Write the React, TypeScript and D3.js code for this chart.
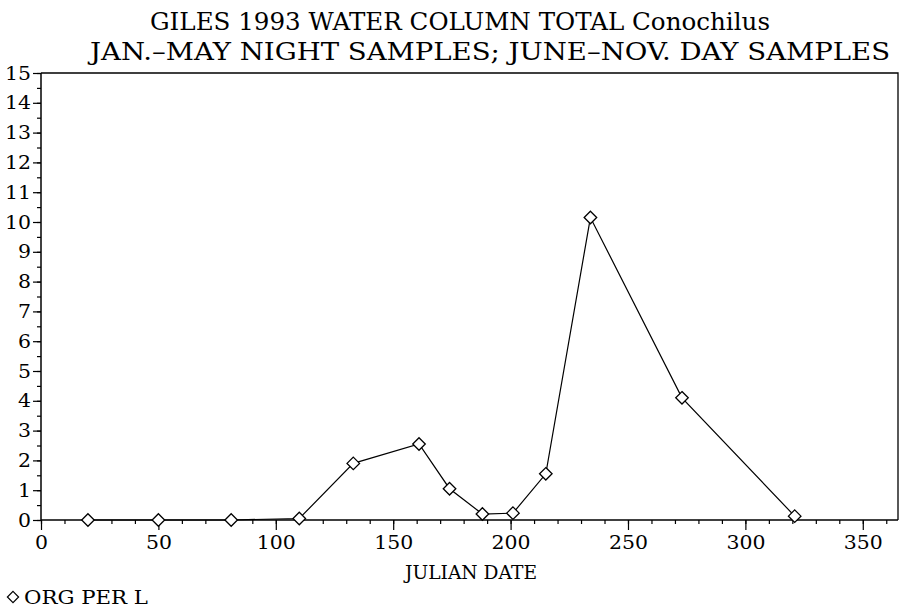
import React, { useRef, useEffect } from "react"
import * as d3 from "d3"

const julianDays = [20, 50, 81, 110, 133, 161, 174, 188, 201, 215, 234, 273, 321]
const orgPerL = [0, 0, 0, 0.05, 1.9, 2.55, 1.05, 0.2, 0.23, 1.55, 10.15, 4.1, 0.13]
const xTicks = [0, 50, 100, 150, 200, 250, 300, 350]
const yTicks = d3.range(0, 16)
const titleLines = [
  "GILES 1993 WATER COLUMN TOTAL Conochilus",
  "JAN.\u2013MAY NIGHT SAMPLES; JUNE\u2013NOV. DAY SAMPLES",
]
const xLabel = "JULIAN DATE"
const legendLabel = "ORG PER L"

const W = 900,
  H = 608
const margin = { top: 73, right: 2, bottom: 88, left: 41 }
const font = "'DejaVu Serif', serif"

function App() {
  const ref = useRef()

  useEffect(() => {
    const svg = d3.select(ref.current)
    svg.selectAll("*").remove()

    const x = d3
      .scaleLinear()
      .domain([0, 365])
      .range([margin.left, W - margin.right])
    const y = d3
      .scaleLinear()
      .domain([0, 15])
      .range([H - margin.bottom, margin.top])

    // titles
    svg
      .selectAll(".title")
      .data(titleLines)
      .enter()
      .append("text")
      .attr("x", (d, i) => (i === 0 ? 460 : 490))
      .attr("y", (d, i) => 30 + i * 30)
      .attr("text-anchor", "middle")
      .attr("textLength", (d, i) => (i === 0 ? 620 : 800))
      .attr("lengthAdjust", "spacingAndGlyphs")
      .style("font-family", font)
      .style("font-size", "25px")
      .text(d => d)

    // frame (top + right)
    svg
      .append("path")
      .attr("d", `M${x(0)},${y(15)}H${x(365)}V${y(0)}`)
      .attr("fill", "none")
      .attr("stroke", "#000")
      .attr("stroke-width", 1.3)

    // x axis
    const xAxis = svg.append("g").attr("transform", `translate(0,${y(0)})`)
    xAxis
      .append("g")
      .call(d3.axisBottom(x).tickValues(d3.range(0, 361, 10)).tickSize(4).tickFormat(""))
      .call(g => g.select(".domain").remove())
    xAxis
      .append("g")
      .call(d3.axisBottom(x).tickValues(xTicks).tickSize(10).tickPadding(6))
      .call(g => g.select(".domain").attr("d", `M${x(0)},0H${x(365)}`).attr("stroke-width", 1.5))
      .call(g =>
        g
          .selectAll("text")
          .style("font-family", font)
          .style("font-size", "19px")
          .attr("textLength", d => String(d).length * 13)
          .attr("lengthAdjust", "spacingAndGlyphs")
      )

    // y axis
    const yAxis = svg.append("g").attr("transform", `translate(${x(0)},0)`)
    yAxis
      .append("g")
      .call(d3.axisLeft(y).tickValues(d3.range(0, 15.01, 0.5)).tickSize(4).tickFormat(""))
      .call(g => g.select(".domain").remove())
    yAxis
      .append("g")
      .call(d3.axisLeft(y).tickValues(yTicks).tickSize(8).tickPadding(2))
      .call(g => g.select(".domain").attr("d", `M0,${y(0)}V${y(15)}`).attr("stroke-width", 1.5))
      .call(g =>
        g
          .selectAll("text")
          .style("font-family", font)
          .style("font-size", "19px")
          .attr("textLength", d => String(d).length * 13)
          .attr("lengthAdjust", "spacingAndGlyphs")
      )

    svg.selectAll(".tick line").attr("stroke-width", 1.2)

    // x label
    svg
      .append("text")
      .attr("x", 471)
      .attr("y", 579)
      .attr("text-anchor", "middle")
      .attr("textLength", 132)
      .attr("lengthAdjust", "spacingAndGlyphs")
      .style("font-family", font)
      .style("font-size", "18px")
      .text(xLabel)

    // series
    const pts = julianDays.map((d, i) => [d, orgPerL[i]])
    const line = d3
      .line()
      .x(d => x(d[0]))
      .y(d => y(d[1]))
    svg
      .append("path")
      .datum(pts)
      .attr("d", line)
      .attr("fill", "none")
      .attr("stroke", "#000")
      .attr("stroke-width", 1.2)

    const diamond = d3.symbol().type(d3.symbolDiamond2).size(100)
    svg
      .selectAll(".pt")
      .data(pts)
      .enter()
      .append("path")
      .attr("d", diamond)
      .attr("transform", d => `translate(${x(d[0])},${y(d[1])})`)
      .attr("fill", "#fff")
      .attr("stroke", "#000")
      .attr("stroke-width", 1.3)

    // legend
    svg
      .append("path")
      .attr("d", d3.symbol().type(d3.symbolDiamond2).size(80))
      .attr("transform", "translate(13,597)")
      .attr("fill", "#fff")
      .attr("stroke", "#000")
      .attr("stroke-width", 1.2)
    svg
      .append("text")
      .attr("x", 24)
      .attr("y", 604)
      .attr("textLength", 124)
      .attr("lengthAdjust", "spacingAndGlyphs")
      .style("font-family", font)
      .style("font-size", "18px")
      .text(legendLabel)
  }, [])

  return (
    <svg
      ref={ref}
      width={W}
      height={H}
      style={{ position: "absolute", left: 0, top: 0, background: "#fff" }}
    ></svg>
  )
}

export default App
